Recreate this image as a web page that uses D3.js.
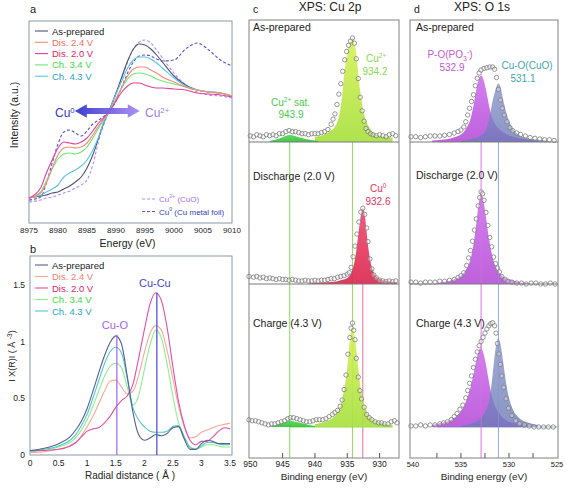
<!DOCTYPE html>
<html><head><meta charset="utf-8">
<script src="https://cdn.jsdelivr.net/npm/d3@7"></script>
<style>body{margin:0;background:#fff}svg{display:block}text{font-family:"Liberation Sans",Arial,Helvetica,sans-serif}</style>
</head><body><svg id="fig" width="567" height="488"></svg>
<script>
// ---------------- Panel a : XANES ----------------
const xanesEnergy = [8975,8977,8978,8979,8980,8981,8982,8983,8984,8985,8986,8987,8988,8989,8990,8991,8992,8993,8994,8995,8996,8997,8998,9000,9002,9004,9006,9008,9010];
const xanesAsPrepared = [0.25,0.27,0.28,0.30,0.31,0.34,0.37,0.41,0.46,0.55,0.68,0.85,1.02,1.15,1.30,1.46,1.62,1.74,1.79,1.78,1.74,1.68,1.61,1.47,1.38,1.33,1.31,1.30,1.27];
const xanesDis24 = [0.25,0.30,0.40,0.55,0.68,0.75,0.76,0.75,0.76,0.80,0.88,0.97,1.05,1.13,1.24,1.36,1.47,1.54,1.56,1.56,1.53,1.50,1.46,1.41,1.36,1.33,1.31,1.30,1.27];
const xanesDis20 = [0.25,0.35,0.50,0.63,0.75,0.81,0.80,0.79,0.81,0.85,0.92,1.00,1.06,1.13,1.22,1.31,1.37,1.40,1.40,1.38,1.36,1.35,1.35,1.34,1.33,1.30,1.29,1.28,1.26];
const xanesCh34 = [0.25,0.31,0.42,0.54,0.64,0.69,0.70,0.69,0.71,0.76,0.85,0.95,1.04,1.13,1.24,1.35,1.44,1.49,1.50,1.49,1.47,1.44,1.42,1.39,1.36,1.33,1.31,1.30,1.27];
const xanesCh43 = [0.25,0.28,0.31,0.34,0.38,0.46,0.50,0.53,0.57,0.63,0.73,0.86,1.03,1.15,1.29,1.42,1.55,1.63,1.66,1.66,1.64,1.60,1.55,1.45,1.37,1.33,1.31,1.30,1.27];
const xanesCuO = [0.21,0.23,0.25,0.26,0.28,0.30,0.32,0.35,0.38,0.43,0.58,0.82,1.00,1.14,1.29,1.45,1.61,1.74,1.81,1.83,1.80,1.73,1.65,1.50,1.38,1.31,1.28,1.27,1.25];
const xanesCuFoil = [0.23,0.26,0.40,0.60,0.79,0.91,0.93,0.90,0.87,0.92,0.99,1.03,1.07,1.12,1.22,1.36,1.50,1.61,1.67,1.68,1.67,1.64,1.62,1.63,1.74,1.80,1.73,1.63,1.57];
const xanesTicks = [8975,8980,8985,8990,8995,9000,9005,9010];

// ---------------- Panel b : EXAFS ----------------
const exafsR = [0,0.25,0.5,0.7,0.8,0.9,1.0,1.1,1.2,1.3,1.4,1.5,1.6,1.7,1.8,1.9,2.0,2.1,2.2,2.3,2.4,2.5,2.6,2.7,2.8,2.9,3.0,3.1,3.2,3.3,3.4,3.5];
const exafsAsPrepared = [0.04,0.06,0.10,0.16,0.22,0.30,0.41,0.56,0.72,0.87,0.99,1.05,0.98,0.70,0.38,0.18,0.13,0.15,0.18,0.17,0.19,0.24,0.25,0.14,0.05,0.05,0.10,0.13,0.12,0.10,0.10,0.10];
const exafsDis24 = [0.02,0.03,0.05,0.08,0.11,0.17,0.25,0.34,0.45,0.56,0.65,0.66,0.60,0.54,0.56,0.70,0.90,1.07,1.14,1.10,0.92,0.67,0.43,0.25,0.15,0.16,0.20,0.22,0.24,0.26,0.27,0.28];
const exafsDis20 = [0.04,0.04,0.05,0.08,0.11,0.16,0.21,0.23,0.24,0.28,0.34,0.42,0.48,0.52,0.62,0.85,1.10,1.33,1.43,1.36,1.12,0.78,0.47,0.26,0.13,0.09,0.12,0.12,0.16,0.21,0.24,0.23];
const exafsCh34 = [0.03,0.04,0.07,0.11,0.15,0.22,0.31,0.43,0.56,0.69,0.78,0.81,0.77,0.60,0.44,0.52,0.75,0.97,1.10,1.03,0.80,0.52,0.28,0.14,0.06,0.05,0.07,0.09,0.09,0.08,0.07,0.07];
const exafsCh43 = [0.03,0.05,0.08,0.13,0.18,0.26,0.36,0.50,0.65,0.80,0.91,0.95,0.90,0.68,0.42,0.31,0.25,0.21,0.20,0.20,0.21,0.25,0.26,0.16,0.07,0.05,0.08,0.11,0.11,0.10,0.09,0.09];
const exafsXTicks = [0,0.5,1,1.5,2,2.5,3,3.5];
const exafsYTicks = [0,0.5,1,1.5];
const exafsMarkers = [{label:"Cu-O", r:1.52, top:1.06}, {label:"Cu-Cu", r:2.22, top:1.43}];

const seriesNames = ["As-prepared","Dis. 2.4 V","Dis. 2.0 V","Ch. 3.4 V","Ch. 4.3 V"];

// ---------------- Panel c : XPS Cu 2p ----------------
const cuAsPrepData = [[950,0.06],[949.5,0.05],[949,0.07],[948.5,0.06],[948,0.05],[947.5,0.07],[947,0.06],[946.5,0.07],[946,0.06],[945.5,0.08],[945,0.08],[944.5,0.10],[944,0.11],[943.5,0.10],[943,0.10],[942.5,0.09],[942,0.08],[941.5,0.08],[941,0.07],[940.5,0.08],[940,0.08],[939.5,0.08],[939,0.09],[938.5,0.10],[938,0.12],[937.5,0.17],[937.2,0.22],[936.9,0.27],[936.6,0.36],[936.3,0.46],[936,0.56],[935.7,0.68],[935.4,0.79],[935.1,0.87],[934.8,0.93],[934.5,0.97],[934.2,1.0],[933.9,0.95],[933.6,0.80],[933.3,0.61],[933,0.43],[932.7,0.30],[932.4,0.20],[932.1,0.13],[931.8,0.10],[931.4,0.08],[931,0.07],[930.5,0.06],[930,0.07],[929.5,0.06],[929,0.05],[928.5,0.07],[928,0.08],[927.5,0.06]];
const cuAsPrepMain = [[940,0.05],[939,0.06],[938.3,0.08],[937.5,0.11],[937,0.14],[936.5,0.20],[936.2,0.27],[935.8,0.44],[935.4,0.69],[934.9,0.88],[934.5,0.97],[934.2,1.0],[933.9,0.96],[933.6,0.85],[933.3,0.66],[933,0.48],[932.7,0.36],[932.4,0.27],[932,0.19],[931.5,0.13],[931,0.09],[930,0.06],[929,0.05],[928,0.04]];
const cuAsPrepSat = [[947,0.01],[946,0.025],[945,0.045],[944.5,0.06],[943.9,0.067],[943.2,0.06],[942.5,0.045],[941.5,0.03],[940.5,0.02],[939.5,0.01]];
const cuDischData = [[950.2,0.10],[949.5,0.09],[949,0.10],[948.5,0.08],[948,0.09],[947.5,0.07],[947,0.08],[946.5,0.07],[946,0.06],[945.5,0.07],[945,0.06],[944.5,0.06],[944,0.05],[943.5,0.06],[943,0.05],[942.5,0.04],[942,0.04],[941.5,0.05],[941,0.04],[940.5,0.04],[940,0.05],[939.5,0.04],[939,0.05],[938.5,0.05],[938,0.06],[937.5,0.07],[937,0.07],[936.5,0.09],[936,0.10],[935.5,0.11],[935,0.13],[934.7,0.15],[934.4,0.22],[934.1,0.36],[933.8,0.50],[933.5,0.66],[933.2,0.82],[932.9,0.95],[932.6,1.0],[932.3,0.92],[932,0.74],[931.8,0.56],[931.5,0.33],[931.2,0.20],[930.9,0.12],[930.5,0.08],[930,0.05],[929.5,0.04],[929,0.03],[928.5,0.04],[928,0.03],[927.5,0.04]];
const cuDischCu0 = [[941,0.01],[939,0.02],[937,0.03],[936,0.05],[935,0.08],[934.5,0.13],[934,0.25],[933.6,0.44],[933.3,0.65],[933,0.85],[932.8,0.96],[932.6,1.0],[932.4,0.96],[932.2,0.85],[932,0.68],[931.7,0.45],[931.4,0.29],[931,0.17],[930.5,0.10],[930,0.07],[929,0.04],[928,0.03],[927.3,0.02]];
const cuChargeData = [[950.2,0.07],[949.7,0.06],[949.2,0.06],[948.7,0.05],[948.2,0.04],[947.7,0.03],[947.2,0.02],[946.7,0.03],[946.2,0.03],[945.7,0.04],[945.2,0.05],[944.7,0.06],[944.2,0.08],[943.8,0.09],[943.3,0.09],[942.8,0.08],[942.3,0.07],[941.8,0.06],[941.3,0.05],[940.8,0.05],[940.3,0.06],[939.8,0.07],[939.3,0.07],[938.8,0.07],[938.3,0.08],[937.8,0.10],[937.3,0.12],[936.9,0.14],[936.5,0.16],[936.1,0.20],[935.8,0.26],[935.5,0.36],[935.2,0.50],[934.9,0.70],[934.6,0.86],[934.4,0.95],[934.2,1.0],[934,0.93],[933.8,0.84],[933.6,0.66],[933.3,0.48],[933.05,0.35],[932.8,0.27],[932.4,0.19],[932,0.12],[931.6,0.09],[931.2,0.07],[930.7,0.05],[930.2,0.04],[929.7,0.04],[929.2,0.03],[928.7,0.03],[928.2,0.05],[927.7,0.06],[927.3,0.04]];
const cuChargeMain = [[940,0.03],[938,0.06],[937,0.10],[936.5,0.14],[936,0.21],[935.5,0.36],[935,0.57],[934.7,0.78],[934.4,0.93],[934.2,0.97],[934,0.93],[933.7,0.80],[933.4,0.62],[933.1,0.45],[932.8,0.33],[932.5,0.24],[932,0.15],[931.5,0.10],[931,0.07],[930,0.05],[929,0.03],[928,0.02]];
const cuChargeSat = [[947,0.005],[946,0.02],[945,0.04],[944.3,0.055],[943.7,0.06],[943,0.05],[942,0.035],[941,0.02],[940,0.01]];
const cuTicks = [950,945,940,935,930];
const cuLines = [{e:943.9, from:142, color:"#8fdc55"},{e:934.2, from:142, color:"#8fdc55"},{e:932.6, from:284, color:"#f07090"}];

// ---------------- Panel d : XPS O 1s ----------------
const oAsPrepData = [[540.2,0.07],[539.7,0.07],[539.2,0.06],[538.7,0.07],[538.2,0.08],[537.7,0.08],[537.2,0.08],[536.7,0.09],[536.2,0.10],[535.7,0.12],[535.3,0.14],[535,0.16],[534.7,0.20],[534.5,0.27],[534.3,0.36],[534.1,0.45],[533.9,0.54],[533.7,0.63],[533.5,0.75],[533.3,0.85],[533.1,0.92],[532.9,0.96],[532.6,0.98],[532.3,0.99],[532,1.0],[531.7,1.0],[531.5,0.97],[531.3,0.86],[531.1,0.70],[530.9,0.56],[530.7,0.45],[530.5,0.36],[530.2,0.27],[529.9,0.19],[529.6,0.15],[529.2,0.12],[528.8,0.10],[528.3,0.08],[527.8,0.06],[527.3,0.05],[526.8,0.04],[526.3,0.03],[525.8,0.03],[525.3,0.02]];
const oAsPrepPO = [[538,0.02],[537,0.03],[536,0.05],[535.5,0.07],[535,0.10],[534.5,0.17],[534,0.31],[533.7,0.48],[533.4,0.70],[533.1,0.85],[532.9,0.89],[532.7,0.85],[532.4,0.70],[532.1,0.50],[531.8,0.34],[531.5,0.25],[531,0.17],[530.5,0.12],[530,0.09],[529,0.05],[528,0.03],[527,0.02]];
const oAsPrepCuO = [[535,0.02],[534,0.04],[533,0.08],[532.5,0.13],[532,0.35],[531.7,0.55],[531.4,0.70],[531.2,0.77],[531.1,0.78],[530.9,0.74],[530.6,0.56],[530.3,0.40],[530,0.28],[529.5,0.16],[529,0.10],[528,0.05],[527,0.03],[526,0.02]];
const oDischData = [[540.2,0.02],[539.7,0.02],[539.2,0.01],[538.7,0.02],[538.2,0.02],[537.7,0.02],[537.2,0.03],[536.7,0.03],[536.2,0.04],[535.7,0.05],[535.3,0.07],[535,0.09],[534.7,0.12],[534.4,0.20],[534.2,0.28],[534,0.36],[533.8,0.46],[533.6,0.58],[533.4,0.70],[533.2,0.84],[533.05,0.93],[532.9,0.99],[532.75,0.97],[532.6,0.90],[532.4,0.77],[532.2,0.63],[532,0.50],[531.8,0.40],[531.6,0.29],[531.4,0.22],[531.2,0.17],[531,0.13],[530.75,0.08],[530.4,0.05],[530.1,0.03],[529.7,0.02],[529.2,0.01],[528.7,0.01],[528.2,0.0],[527.7,0.01],[527.2,0.01],[526.7,0.0],[526.2,0.0],[525.7,0.01],[525.2,0.0]];
const oDischPO = [[537.5,0.01],[537,0.02],[536,0.04],[535.5,0.06],[535,0.09],[534.5,0.15],[534,0.27],[533.7,0.42],[533.4,0.65],[533.1,0.90],[532.9,0.97],[532.7,0.92],[532.4,0.72],[532.1,0.50],[531.8,0.33],[531.5,0.22],[531,0.12],[530.5,0.07],[530,0.05],[529,0.02],[528,0.01]];
const oChargeData = [[540.2,0.01],[539.7,0.01],[539.2,0.02],[538.7,0.01],[538.2,0.02],[537.7,0.02],[537.2,0.03],[536.8,0.04],[536.4,0.05],[536,0.07],[535.7,0.10],[535.4,0.13],[535.1,0.17],[534.8,0.21],[534.5,0.28],[534.3,0.35],[534.1,0.42],[533.9,0.49],[533.7,0.57],[533.5,0.65],[533.3,0.72],[533.1,0.78],[532.9,0.82],[532.7,0.86],[532.5,0.90],[532.3,0.94],[532.1,0.97],[531.9,0.99],[531.7,1.0],[531.5,0.97],[531.35,0.90],[531.2,0.80],[531.05,0.70],[530.9,0.60],[530.75,0.49],[530.55,0.38],[530.3,0.27],[530.05,0.18],[529.7,0.11],[529.3,0.06],[528.9,0.03],[528.4,0.02],[527.9,0.01],[527.4,0.0],[526.9,0.0],[526.4,0.0],[525.9,0.0],[525.4,0.0]];
const oChargePO = [[538,0.02],[537,0.04],[536,0.07],[535.5,0.10],[535,0.15],[534.5,0.24],[534,0.38],[533.6,0.55],[533.3,0.68],[533.1,0.74],[532.9,0.755],[532.7,0.72],[532.4,0.60],[532.1,0.44],[531.8,0.30],[531.5,0.21],[531,0.13],[530.5,0.08],[530,0.05],[529,0.03],[528,0.02]];
const oChargeCuO = [[535,0.01],[534,0.03],[533,0.08],[532.5,0.14],[532,0.28],[531.7,0.50],[531.4,0.75],[531.2,0.84],[531.1,0.85],[530.9,0.80],[530.6,0.62],[530.3,0.42],[530,0.28],[529.5,0.15],[529,0.09],[528,0.04],[527,0.02]];
const oTicks = [540,535,530,525];
const oMinorTicks = [537.5,535,532.5,530,527.5];
const oLines = [{e:532.9, color:"#e88ae8"},{e:531.1, color:"#92aed8"}];

// ============================================================
const svg = d3.select("#fig");
const defs = svg.append("defs");
function grad(id, c1, c2, horiz){
  const g = defs.append("linearGradient").attr("id", id)
    .attr("x1",0).attr("y1",0).attr("x2",horiz?1:0).attr("y2",horiz?0:1);
  g.append("stop").attr("offset","0%").attr("stop-color",c1);
  g.append("stop").attr("offset","100%").attr("stop-color",c2);
}
grad("gArrow","#3434cc","#aa8cf2",true);
grad("gLime","#d8f25a","#a8e040");
grad("gSat","#50d850","#2ec03c");
grad("gRed","#f04d72","#dc2850");
grad("gPink","#d070ee","#b650d8");
grad("gBlue","#8c96c8","#6c7ab8");

function txt(x,y,s,opts={}){
  const t = svg.append("text").attr("x",x).attr("y",y).text(s)
    .attr("font-size",opts.size||10).attr("fill",opts.color||"#222")
    .attr("text-anchor",opts.anchor||"start");
  if(opts.rotate) t.attr("transform",`rotate(-90,${x},${y})`);
  return t;
}
function supTxt(x,y,base,sup,after,opts){
  const t = txt(x,y,base,opts);
  t.append("tspan").attr("dy",-4).attr("font-size",(opts.size||10)*0.65).text(sup);
  if(after) t.append("tspan").attr("dy",4).text(after);
  return t;
}

// ---------------- Panel a ----------------
const xA = d3.scaleLinear().domain([8975,9010]).range([29,232]);
const yA = d3.scaleLinear().domain([0,2.02]).range([223,21]);
svg.append("rect").attr("x",29).attr("y",21).attr("width",203).attr("height",202)
  .attr("fill","none").attr("stroke","#8c98ac").attr("stroke-width",1);
const xanesSeries = [
  {v:xanesCuFoil, c:"#5454d6", dash:"3,2"},
  {v:xanesCuO, c:"#b48cf2", dash:"3,2"},
  {v:xanesAsPrepared, c:"#4c5272"},
  {v:xanesCh43, c:"#5cc4e4"},
  {v:xanesCh34, c:"#6ee86e"},
  {v:xanesDis24, c:"#f48c7a"},
  {v:xanesDis20, c:"#e440a0"}
];
const lineA = d3.line().x((d,i)=>xA(xanesEnergy[i])).y(d=>yA(d)).curve(d3.curveMonotoneX);
xanesSeries.forEach(s=>{
  svg.append("path").attr("d",lineA(s.v)).attr("fill","none").attr("stroke",s.c)
    .attr("stroke-width",1.1).attr("stroke-dasharray",s.dash||null);
});
xanesTicks.forEach(t=>txt(xA(t),233,t,{size:8,anchor:"middle"}));
txt(xA(8992),247,"Energy (eV)",{size:10.5,anchor:"middle"});
txt(18,115,"Intensity (a.u.)",{size:10.5,anchor:"middle",rotate:true});
txt(30,13,"a",{size:11});
// arrow
{
  const x1 = xA(8982.9), x2 = xA(8994.1), yc = yA(1.12);
  const hl = 12, hh = 6.8, sh = 3;
  const pts = [[x1,yc],[x1+hl,yc-hh],[x1+hl,yc-sh],[x2-hl,yc-sh],[x2-hl,yc-hh],[x2,yc],[x2-hl,yc+hh],[x2-hl,yc+sh],[x1+hl,yc+sh],[x1+hl,yc+hh]];
  svg.append("path").attr("d","M"+pts.map(p=>p.join(",")).join("L")+"Z").attr("fill","url(#gArrow)").attr("opacity",0.95);
  supTxt(55,117,"Cu","0","",{size:12,color:"#3636c4"});
  supTxt(145,117,"Cu","2+","",{size:12,color:"#a27cf0"});
}
// legend a
const legColorsA = ["#4c5272","#f48c7a","#e440a0","#6ee86e","#5cc4e4"];
const legTextA = ["#222","#f2705c","#e41e62","#3ce03c","#2aa6c2"];
seriesNames.forEach((n,i)=>{
  const y = 31 + i*11.3;
  svg.append("line").attr("x1",35).attr("x2",48).attr("y1",y).attr("y2",y).attr("stroke",legColorsA[i]).attr("stroke-width",1.1);
  txt(52,y+3.5,n,{size:9.5,color:legTextA[i]});
});
[["#b48cf2","2+"," (CuO)","#a070f0",199],["#5454d6","0"," (Cu metal foil)","#3c3cc8",211.5]].forEach(r=>{
  svg.append("line").attr("x1",142).attr("x2",157).attr("y1",r[4]).attr("y2",r[4]).attr("stroke",r[0]).attr("stroke-width",1.1).attr("stroke-dasharray","3,2");
  supTxt(159,r[4]+3,"Cu",r[1],r[2],{size:8,color:r[3]});
});

// ---------------- Panel b ----------------
const xB = d3.scaleLinear().domain([0,3.5]).range([30,230]);
const yB = d3.scaleLinear().domain([0,1.75]).range([455,256.4]);
svg.append("rect").attr("x",30).attr("y",256).attr("width",202).attr("height",199)
  .attr("fill","none").attr("stroke","#8c98ac").attr("stroke-width",1);
const exafsSeries = [
  {v:exafsDis24, c:"#f6aa9a"},
  {v:exafsCh34, c:"#8cf08c"},
  {v:exafsCh43, c:"#52c8cc"},
  {v:exafsDis20, c:"#e050aa"},
  {v:exafsAsPrepared, c:"#56628f"}
];
const lineB = d3.line().x((d,i)=>xB(exafsR[i])).y(d=>yB(d)).curve(d3.curveMonotoneX);
exafsSeries.forEach(s=>{
  svg.append("path").attr("d",lineB(s.v)).attr("fill","none").attr("stroke",s.c).attr("stroke-width",1.1);
});
exafsMarkers.forEach((m,i)=>{
  const col = i===0?"#a062f0":"#4646d2";
  svg.append("line").attr("x1",xB(m.r)).attr("x2",xB(m.r)).attr("y1",yB(0)).attr("y2",yB(m.top)).attr("stroke",col).attr("stroke-width",1.2);
  txt(xB(m.r)-2,yB(m.top)-6,m.label,{size:11,anchor:"middle",color:col});
});
exafsXTicks.forEach(t=>txt(xB(t),466,t,{size:8.5,anchor:"middle"}));
exafsYTicks.forEach(t=>txt(25,yB(t)+3,t,{size:8.5,anchor:"end"}));
txt(xB(1.75),479,"Radial distance ( \u00C5 )",{size:10,anchor:"middle"});
{
  const t = txt(15,356,"I X(R)I ( \u00C5 ",{size:9,anchor:"middle",rotate:true});
  t.append("tspan").attr("dy",-3).attr("font-size",6.5).text("-3");
  t.append("tspan").attr("dy",3).text(")");
}
txt(30,253,"b",{size:11});
const legColorsB = ["#56628f","#f6aa9a","#e050aa","#8cf08c","#52c8cc"];
const legTextB = ["#222","#f48070","#e41e62","#3ce03c","#2aa6c2"];
seriesNames.forEach((n,i)=>{
  const y = 265 + i*11.5;
  svg.append("line").attr("x1",35).attr("x2",48).attr("y1",y).attr("y2",y).attr("stroke",legColorsB[i]).attr("stroke-width",1.1);
  txt(52,y+3.5,n,{size:9.5,color:legTextB[i]});
});

// ---------------- XPS helper ----------------
function xpsPanel(x, zero, unit, data, fits){
  const y = d3.scaleLinear().domain([0,1]).range([zero, zero-unit]);
  const area = d3.area().x(d=>x(d[0])).y0(y(0)).y1(d=>y(d[1])).curve(d3.curveMonotoneX);
  fits.forEach(f=>{
    svg.append("path").attr("d",area(f.d)).attr("fill",f.fill).attr("opacity",f.op||0.92);
  });
  svg.selectAll(null).data(data).enter().append("circle")
    .attr("cx",d=>x(d[0])).attr("cy",d=>y(d[1])).attr("r",2.2)
    .attr("fill","rgba(255,255,255,0.35)").attr("stroke","#7c7c7c").attr("stroke-width",0.8);
}

// ---------------- Panel c ----------------
const xC = d3.scaleLinear().domain([950.2,927.0]).range([249,399]);
cuLines.forEach(l=>svg.append("line").attr("x1",xC(l.e)).attr("x2",xC(l.e)).attr("y1",l.from).attr("y2",458).attr("stroke",l.color).attr("stroke-width",1));
xpsPanel(xC,142,104,cuAsPrepData,[{d:cuAsPrepMain,fill:"url(#gLime)"},{d:cuAsPrepSat,fill:"url(#gSat)"}]);
xpsPanel(xC,284,75.7,cuDischData,[{d:cuDischCu0,fill:"url(#gRed)"}]);
svg.append("line").attr("x1",xC(944)).attr("x2",xC(928)).attr("y1",427).attr("y2",427).attr("stroke","#8ad85a").attr("stroke-width",1);
xpsPanel(xC,427,104,cuChargeData,[{d:cuChargeMain,fill:"url(#gLime)"},{d:cuChargeSat,fill:"url(#gSat)"}]);
svg.append("rect").attr("x",249).attr("y",20).attr("width",150).attr("height",438).attr("fill","none").attr("stroke","#808080").attr("stroke-width",1);
[142,284].forEach(yy=>svg.append("line").attr("x1",249).attr("x2",399).attr("y1",yy).attr("y2",yy).attr("stroke","#7a7a7a").attr("stroke-width",1));
cuTicks.forEach(t=>{
  if(t!==950) svg.append("line").attr("x1",xC(t)).attr("x2",xC(t)).attr("y1",458).attr("y2",453).attr("stroke","#555");
  txt(xC(t),467,t,{size:8.5,anchor:"middle"});
});
txt(xC(938.6),480,"Binding energy (eV)",{size:9.8,anchor:"middle"});
txt(253,13,"c",{size:10.5});
txt(330,11,"XPS: Cu 2p",{size:12,anchor:"middle"});
txt(253,31,"As-prepared",{size:10.5});
txt(253,180,"Discharge (2.0 V)",{size:10.5});
txt(253,327,"Charge (4.3 V)",{size:10.5});
supTxt(366,62,"Cu","2+","",{size:10,color:"#86dc4a"});
txt(375,75,"934.2",{size:10,anchor:"middle",color:"#86dc4a"});
supTxt(271,106,"Cu","2+"," sat.",{size:10,color:"#4cc84c"});
txt(291,118,"943.9",{size:10,anchor:"middle",color:"#4cc84c"});
supTxt(370,192,"Cu","0","",{size:10,color:"#e8325a"});
txt(378,205,"932.6",{size:10,anchor:"middle",color:"#e8325a"});

// ---------------- Panel d ----------------
const xD = d3.scaleLinear().domain([540.3,524.9]).range([410,558]);
oLines.forEach(l=>svg.append("line").attr("x1",xD(l.e)).attr("x2",xD(l.e)).attr("y1",142).attr("y2",458).attr("stroke",l.color).attr("stroke-width",1));
xpsPanel(xD,142,75,oAsPrepData,[{d:oAsPrepPO,fill:"url(#gPink)",op:0.9},{d:oAsPrepCuO,fill:"url(#gBlue)",op:0.8}]);
xpsPanel(xD,284,93,oDischData,[{d:oDischPO,fill:"url(#gPink)",op:0.9}]);
svg.append("line").attr("x1",xD(537.5)).attr("x2",xD(525)).attr("y1",427).attr("y2",427).attr("stroke","#8a98cc").attr("stroke-width",1);
xpsPanel(xD,427,104.3,oChargeData,[{d:oChargePO,fill:"url(#gPink)",op:0.9},{d:oChargeCuO,fill:"url(#gBlue)",op:0.8}]);
oLines.forEach(l=>svg.append("line").attr("x1",xD(l.e)).attr("x2",xD(l.e)).attr("y1",142).attr("y2",458).attr("stroke",l.color).attr("stroke-width",0.8).attr("opacity",0.5));
svg.append("rect").attr("x",410).attr("y",20).attr("width",148).attr("height",438).attr("fill","none").attr("stroke","#808080").attr("stroke-width",1);
[142,284].forEach(yy=>svg.append("line").attr("x1",410).attr("x2",558).attr("y1",yy).attr("y2",yy).attr("stroke","#7a7a7a").attr("stroke-width",1));
oMinorTicks.forEach(t=>svg.append("line").attr("x1",xD(t)).attr("x2",xD(t)).attr("y1",458).attr("y2",453).attr("stroke","#555"));
oTicks.forEach(t=>txt(xD(t),467,t,{size:7.5,anchor:"middle"}));
txt(xD(532.6),480,"Binding energy (eV)",{size:9.8,anchor:"middle"});
txt(414,13,"d",{size:10.5});
txt(482,11,"XPS: O 1s",{size:12,anchor:"middle"});
txt(416,31,"As-prepared",{size:10.5});
txt(416,179,"Discharge (2.0 V)",{size:10.5});
txt(416,327,"Charge (4.3 V)",{size:10.5});
{
  const t = txt(450,58,"P-O(PO",{size:10,anchor:"middle",color:"#c458d8"});
  t.append("tspan").attr("dy",3).attr("font-size",7).text("3");
  t.append("tspan").attr("dy",-7).attr("font-size",7).text("-");
  t.append("tspan").attr("dy",4).text(")");
}
txt(452,71,"532.9",{size:10,anchor:"middle",color:"#c458d8"});
txt(527,69,"Cu-O(CuO)",{size:10,anchor:"middle",color:"#44a8a8"});
txt(523,82,"531.1",{size:10,anchor:"middle",color:"#44a8a8"});
</script></body></html>
